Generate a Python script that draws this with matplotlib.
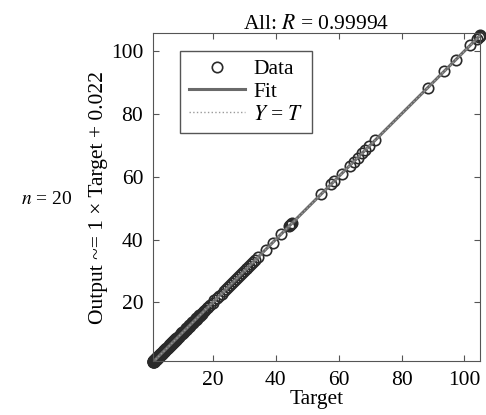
import matplotlib.pyplot as plt
import numpy as np

plt.rcParams['font.family'] = 'Liberation Serif'
plt.rcParams['mathtext.fontset'] = 'stix'

# Data (targets and network outputs)
target = [1.0, 1.0, 1.1, 1.1, 1.2, 1.2, 1.3, 1.3, 1.4, 1.5, 1.5, 1.6, 1.7, 1.7, 1.8,
          1.9, 2.0, 2.0, 2.1, 2.2, 2.3, 2.4, 2.5, 2.6, 2.7, 2.8, 2.9, 3.0, 3.1, 3.2,
          3.3, 3.4, 3.5, 3.6, 3.7, 3.8, 3.9, 4.0, 4.1, 4.3, 4.4, 4.6, 4.7, 4.8, 4.9,
          5.1, 5.2, 5.3, 5.4, 5.6, 5.7, 5.9, 6.0, 6.2, 6.3, 6.5, 6.6, 6.8, 6.9, 7.1,
          7.2, 7.4, 7.5, 7.7, 7.9, 8.0, 8.2, 8.4, 8.6, 8.8, 9.0, 9.1, 9.3, 9.5, 9.7,
          9.9, 10.1, 10.3, 10.5, 10.7, 10.9, 11.1, 11.4, 11.6, 11.8, 12.0, 12.3, 12.5,
          12.7, 13.0, 13.2, 13.4, 13.6, 13.9, 14.1, 14.3, 14.5, 14.8, 15.0, 15.2,
          15.4, 15.7, 15.9, 16.2, 16.4, 16.9, 17.2, 17.5, 18.0, 18.6, 19.2, 19.9, 20.5,
          21.3, 22.0, 22.8, 23.5, 24.2, 24.8, 25.5, 26.1, 26.8, 27.4, 28.0, 28.7, 29.3,
          29.9, 30.5, 31.0, 31.6, 32.2, 32.8, 33.5, 34.3, 36.8, 39.0, 41.6, 44.2, 44.6,
          45.0, 45.3, 54.5, 57.7, 58.6, 61.0, 63.5, 64.8, 66.0, 67.4, 68.4, 69.7, 71.6,
          88.4, 93.6, 97.2, 101.8, 104.0, 104.5, 104.8, 105.0]
output = [1.0, 1.3, 0.9, 1.4, 1.0, 1.5, 1.1, 1.6, 1.2, 1.8, 1.4, 1.5, 2.0, 1.6, 1.7,
          2.2, 1.8, 2.3, 2.0, 2.5, 2.1, 2.6, 2.3, 2.8, 2.5, 3.0, 2.7, 3.2, 2.9, 3.4,
          3.1, 3.6, 3.3, 3.8, 3.5, 4.0, 3.7, 4.2, 3.9, 4.5, 4.2, 4.8, 4.5, 5.0, 4.7,
          5.3, 5.0, 5.5, 5.2, 5.8, 5.5, 6.1, 5.8, 6.4, 6.1, 6.7, 6.4, 7.0, 6.7, 7.3,
          7.0, 7.6, 7.3, 7.9, 7.7, 8.2, 8.0, 8.6, 8.4, 9.0, 8.8, 9.3, 9.1, 9.7, 9.5,
          10.1, 9.9, 10.5, 10.3, 10.9, 10.7, 11.3, 11.2, 11.8, 11.6, 12.2, 12.1, 12.7,
          12.5, 13.2, 13.0, 13.6, 13.4, 14.1, 13.9, 14.5, 14.3, 15.0, 14.8, 15.4,
          15.2, 15.9, 15.7, 16.4, 16.2, 16.9, 17.2, 17.5, 18.1, 18.5, 19.3, 19.8, 20.6,
          21.3, 22.0, 22.8, 23.5, 24.2, 24.8, 25.5, 26.1, 26.8, 27.4, 28.0, 28.7, 29.3,
          29.9, 30.5, 31.0, 31.6, 32.2, 32.8, 33.5, 34.3, 36.8, 39.0, 41.6, 44.2, 44.6,
          45.0, 45.3, 54.5, 57.7, 58.6, 61.0, 63.5, 64.8, 66.0, 67.4, 68.4, 69.7, 71.6,
          88.4, 93.6, 97.2, 101.8, 104.0, 104.5, 104.8, 105.0]
slope, intercept = 1.0, 0.022
r_value = 0.99994
xlims = [1, 105]
ylims = [1.3, 105.7]
ticks = [20, 40, 60, 80, 100]

fig = plt.figure(figsize=(4.86, 4.15), dpi=100)
ax = fig.add_axes([0.315, 0.130, 0.673, 0.790])

fit_x = np.array(xlims)
ax.plot(target, output, 'o', mfc='none', mec='#2a2a2a', ms=7.5, mew=1.2,
        label='Data', clip_on=False)
ax.plot(fit_x, slope * fit_x + intercept, '-', color='#6a6a6a', lw=2.2, label='Fit')
ax.plot(xlims, xlims, ':', color='#9a9a9a', lw=1.0, label='$Y$ = $T$')

ax.set_xlim(xlims)
ax.set_ylim(ylims)
ax.set_xticks(ticks)
ax.set_yticks(ticks)
ax.tick_params(direction='in', top=True, right=True, labelsize=15.5, length=4,
               color='#555555', pad=7)
for s in ax.spines.values():
    s.set_color('#555555')

ax.set_title('All: $R$ = %.5f' % r_value, fontsize=15.5, pad=3)
ax.set_xlabel('Target', fontsize=15.5, labelpad=0)
ax.set_ylabel('Output ~= 1 × Target + 0.022', fontsize=15.5, labelpad=2)

leg = ax.legend(loc='upper left', bbox_to_anchor=(0.05, 0.98), fontsize=15.5,
                fancybox=False, framealpha=1, edgecolor='#555555',
                handlelength=2.6, borderpad=0.4, labelspacing=0.12, handletextpad=0.4)

fig.text(0.043, 0.508, '$n$ = 20', fontsize=14, va='baseline')

fig.savefig('out.png', dpi=100)
